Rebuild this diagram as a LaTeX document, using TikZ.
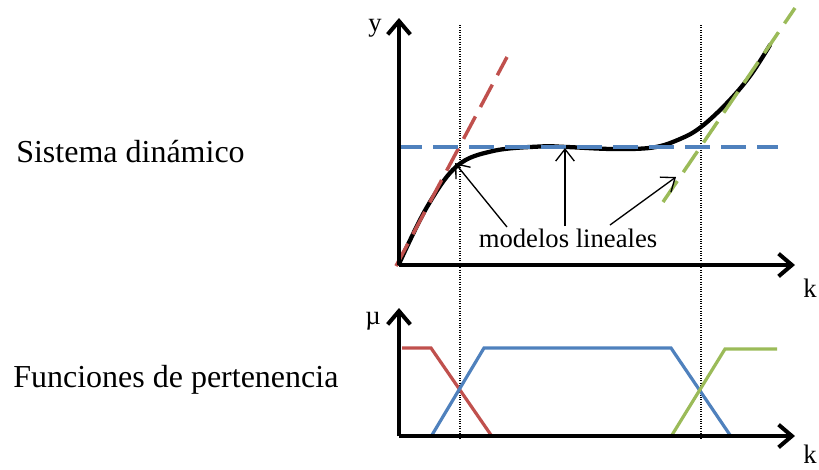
\documentclass[tikz,border=0pt]{standalone}
\usepackage{fontspec}
\setmainfont{Liberation Serif}
\usepackage{tikz}
\usetikzlibrary{arrows.meta,positioning,calc}
\definecolor{mfred}{HTML}{C0504D}
\definecolor{mfblue}{HTML}{4F81BD}
\definecolor{mfgreen}{HTML}{9BBB59}
\tikzset{
  lbl/.style={font=\fontsize{20}{24}\selectfont, inner sep=0pt},
  caption/.style={font=\fontsize{24}{28}\selectfont, inner sep=0pt, anchor=base west},
  axis/.style={-{Straight Barb[length=10pt, width=17pt]}, line width=3pt},
  pointer/.style={-{Straight Barb[length=9pt, width=14pt]}, line width=1pt},
  guide/.style={densely dotted, line width=0.8pt},
  curve/.style={line width=3.2pt, line cap=round},
  lin/.style={line width=2.6pt, dash pattern=on 19pt off 8pt},
  mf/.style={line width=2.4pt},
}

\begin{document}
\begin{tikzpicture}[x=0.75pt, y=-0.75pt]
  \useasboundingbox (0,0) rectangle (819,469);

  % left captions
  \node[caption] (sys) at (16,162) {Sistema dinámico};
  \node[caption] (fun) at (13,387) {Funciones de pertenencia};

  % upper axes
  \coordinate (O1) at (399,265);
  \coordinate (ytop) at (399,18);
  \coordinate (kend1) at (795,265);
  \node[lbl, anchor=base] (ylab) at (375,31) {y};
  \node[lbl, anchor=base] (klab1) at (810,297) {k};

  % lower axes
  \coordinate (O2) at (399,436);
  \coordinate (mutop) at (399,308);
  \coordinate (kend2) at (795,436);
  \node[lbl, anchor=base] (mulab) at (373,324) {µ};
  \node[lbl, anchor=base] (klab2) at (810,463) {k};

  % operating points
  \coordinate (g1t) at (460,25);  \coordinate (g1b) at (460,438);
  \coordinate (g2t) at (701,25);  \coordinate (g2b) at (701,438);
  \draw[guide] (g1t) -- (g1b);
  \draw[guide] (g2t) -- (g2b);

  % nonlinear system
  \draw[curve] plot[smooth, tension=0.6] coordinates {(399,264) (427,207) (457,166)
    (493,151) (540,146.5) (567,147) (613,149) (653,147.5) (680,139) (701,127)
    (727,103) (750,76) (770,45)};

  % local linear models
  \draw[lin, mfred] (396,266) -- (507,57);
  \draw[lin, mfblue] (397,147) -- (778,147);
  \draw[lin, mfgreen] (663,202) -- (795,8);

  \node[lbl, anchor=base] (ml) at (568,247) {modelos lineales};
  \coordinate (s1) at (507,227);  \coordinate (p1) at (455,163);
  \coordinate (s2) at (565,226);  \coordinate (p2) at (565,148);
  \coordinate (s3) at (610,225);  \coordinate (p3) at (676,177);
  \draw[pointer] (s1) -- (p1);
  \draw[pointer] (s2) -- (p2);
  \draw[pointer] (s3) -- (p3);

  % membership functions
  \draw[mf, mfred] (402,348) -- (431,348) -- (491,435);
  \draw[mf, mfblue] (432,435) -- (484,348) -- (671,348) -- (730,435);
  \draw[mf, mfgreen] (672,435) -- (725,349) -- (777,349);

  \draw[axis] (O1) -- (ytop);
  \draw[axis] (O1) -- (kend1);
  \draw[axis] (O2) -- (mutop);
  \draw[axis] (O2) -- (kend2);
\end{tikzpicture}
\end{document}
